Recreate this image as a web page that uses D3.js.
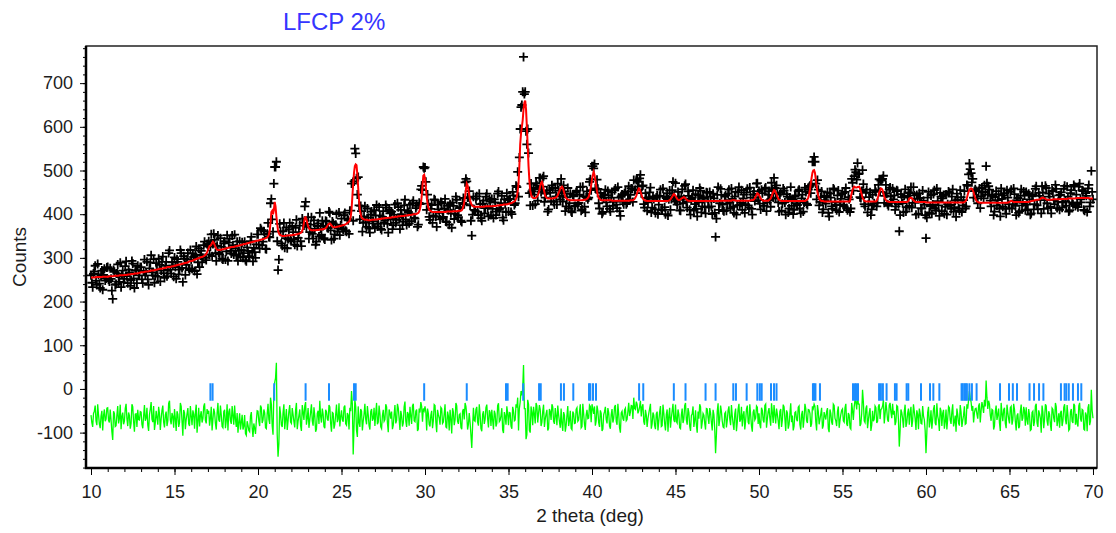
<!DOCTYPE html>
<html lang="en">
<head>
    <meta charset="UTF-8">
    <title>LFCP 2%</title>
    <script src="https://cdn.jsdelivr.net/npm/d3@7/dist/d3.min.js"></script>
    <style>
        body {
            margin: 0;
            background: #fff;
        }

        text {
            font-family: Arial, "Liberation Sans", sans-serif;
            fill: #1c1c1c;
        }

        .axis line {
            stroke: #000;
            stroke-width: 1px;
        }

        path.obs {
            fill: none;
            stroke: #000;
            stroke-width: 1.8px;
        }

        path.calc {
            fill: none;
            stroke: #ff0000;
            stroke-width: 2px;
        }

        path.diff {
            fill: none;
            stroke: #00ff00;
            stroke-width: 1.3px;
        }

        line.bragg {
            stroke: #1a8cff;
            stroke-width: 2px;
        }
    </style>
</head>
<body>
    <svg width=1116 height=533></svg>
    <script>
        // measurement grid: 10 to 70 deg, step 0.05
        var startAngle = 10,
            stepAngle = 0.05;

        // calculated profile (red), one row per degree
        var calcCounts = [
            255,255,255,255,255,255,256,256,256,256,256,256,256,256,257,257,257,257,257,257,
            257,257,258,258,258,258,258,258,259,259,259,259,259,259,260,260,260,260,260,260,
            261,261,261,261,262,262,262,262,263,263,263,263,264,264,264,264,265,265,266,266,
            267,267,267,267,268,268,269,269,269,269,270,270,271,271,271,271,272,272,273,273,
            274,274,275,275,275,275,276,276,277,277,278,278,279,279,279,279,280,280,281,281,
            282,282,283,283,284,284,285,285,286,286,287,287,288,288,289,289,290,291,292,292,
            293,293,294,295,296,296,297,298,299,299,300,301,302,302,303,304,305,307,309,313,
            318,323,327,328,330,334,337,335,330,325,321,319,318,318,318,318,319,319,320,320,
            321,321,322,322,323,323,324,324,325,325,325,325,326,326,327,327,328,328,329,329,
            330,330,331,331,332,332,333,333,334,334,335,335,336,336,337,337,338,338,339,339,
            340,340,341,341,342,342,343,343,344,345,346,347,349,353,362,380,405,408,400,410,
            428,418,395,378,362,356,353,352,351,350,350,350,350,350,351,351,351,351,352,352,
            352,352,353,353,353,353,354,354,355,355,356,357,358,362,368,380,392,393,388,380,
            372,368,365,364,363,363,363,363,363,363,364,364,364,364,365,365,365,365,366,366,
            367,368,370,373,376,378,379,377,374,372,370,370,370,370,371,371,372,372,373,373,
            374,374,375,375,376,377,378,380,381,383,386,394,410,440,470,495,510,514,512,490,
            460,432,410,400,393,390,389,388,387,387,387,387,386,386,386,386,387,387,387,387,
            388,388,388,388,389,389,389,389,390,390,390,390,391,391,391,391,392,392,392,392,
            393,393,393,393,394,394,394,394,395,395,395,395,396,396,396,396,397,397,397,397,
            398,398,398,398,399,399,400,400,400,400,401,402,403,406,412,422,440,465,488,490,
            482,462,440,425,415,410,408,407,406,405,405,405,405,405,405,405,405,405,405,405,
            405,405,405,405,405,405,406,406,406,406,406,406,406,406,407,407,407,407,407,407,
            408,408,408,408,409,412,418,428,440,456,470,466,455,443,432,425,421,419,418,417,
            417,417,417,417,417,417,417,417,417,417,417,417,418,418,418,418,418,418,418,418,
            418,418,419,419,419,419,420,420,420,420,421,421,421,421,422,422,422,422,423,423,
            424,424,425,425,426,427,428,429,431,435,440,452,470,510,560,585,600,615,640,655,
            660,640,600,555,510,478,455,445,440,438,437,437,437,438,440,443,448,455,465,471,
            474,468,458,450,442,439,437,436,436,436,436,436,436,436,437,437,438,438,440,443,
            448,453,458,461,463,460,454,447,440,437,435,434,433,432,432,432,432,432,432,432,
            432,432,432,432,432,432,432,432,432,432,433,433,433,434,435,437,440,446,455,466,
            480,490,497,490,478,465,452,443,437,435,433,432,432,432,432,432,432,432,432,432,
            432,432,432,432,431,431,431,431,431,431,431,431,431,431,431,431,431,431,431,431,
            431,431,431,431,431,431,432,432,432,432,433,435,438,442,448,454,459,458,452,446,
            440,436,433,432,431,431,430,430,430,430,430,430,430,430,430,430,430,430,430,430,
            430,430,430,430,430,430,430,430,430,430,430,430,431,432,434,437,440,443,446,445,
            442,438,435,433,432,433,434,436,437,438,439,438,436,434,432,431,431,430,430,430,
            430,430,430,430,430,430,430,430,430,430,430,430,430,430,430,430,430,430,430,430,
            430,430,430,430,430,430,430,430,430,430,430,430,430,430,431,431,431,431,431,431,
            431,431,431,431,431,431,431,431,432,432,432,432,431,431,431,431,431,431,431,431,
            431,431,431,431,431,431,431,431,431,431,432,432,432,433,434,436,440,444,448,447,
            444,440,436,434,432,431,431,431,431,431,431,431,432,434,436,440,446,451,455,454,
            450,446,440,436,433,432,431,430,430,430,430,430,430,430,430,430,430,430,430,430,
            430,430,430,430,430,430,430,430,430,430,430,430,430,430,430,430,431,432,434,438,
            445,456,470,483,495,500,501,495,480,464,450,442,436,433,431,430,430,430,429,429,
            429,429,429,429,429,429,429,429,429,429,429,429,429,429,429,429,429,429,429,429,
            429,429,429,429,429,429,429,429,429,429,440,448,456,460,463,462,461,461,462,462,
            463,459,452,445,438,434,431,430,429,429,429,429,429,429,429,429,429,429,429,429,
            429,431,435,442,450,455,459,458,455,448,440,435,432,430,429,429,428,428,428,428,
            428,428,428,428,428,428,428,428,428,428,428,428,428,428,428,428,428,428,429,430,
            436,437,438,437,434,432,430,429,428,428,428,428,428,428,428,428,428,428,428,428,
            427,427,427,427,427,427,427,427,427,427,427,427,427,427,427,427,427,427,427,427,
            427,427,427,427,427,427,427,427,427,427,427,427,427,427,427,427,427,427,427,427,
            427,427,427,427,427,427,428,429,432,437,445,451,456,458,459,458,455,450,443,437,
            432,429,428,427,427,426,426,426,426,426,426,426,426,426,426,426,426,426,426,426,
            426,426,426,426,426,426,426,426,426,426,426,426,426,426,426,426,426,426,427,427,
            428,429,431,430,429,428,428,428,428,428,428,428,428,428,428,428,428,428,428,428,
            428,428,428,428,429,429,430,430,431,431,432,432,433,433,433,433,434,435,437,437,
            438,437,436,435,434,433,433,433,433,433,433,433,434,434,434,434,434,434,434,434,
            434,434,435,435,435,435,435,435,435,435,436,436,436,436,436,436,436,436,436,436,
            437,437,437,437,437,437,437,437,437,437,437,437,437,437,437,437,436,436,436,436,
            436
        ];

        // obs - calc (green), one row per degree
        var diffCounts = [
            5,-12,-22,9,14,27,-8,-18,30,6,-15,-25,3,15,-30,4,18,-9,-4,21,
            22,-7,-12,18,-6,-33,-52,14,9,-21,-19,5,26,-14,-3,29,-27,2,11,-16,
            -9,20,31,-3,-20,11,4,-26,-14,30,24,-10,-33,7,8,-22,17,-5,-6,13,
            12,-16,-25,3,28,-8,-2,22,-18,-31,6,19,35,-4,-11,26,-29,-13,15,0,
            -17,24,9,-29,-4,16,27,-11,-23,5,13,-20,-8,32,38,-6,-16,10,2,-24,
            19,-3,-31,14,7,-22,-12,33,25,-9,-42,17,10,-27,-5,8,21,-15,-20,26,
            3,-18,16,7,-26,11,29,-35,-9,22,-21,4,14,-12,-3,25,32,-7,-14,19,
            8,15,-19,-2,24,-30,-5,20,11,-14,-28,9,33,-6,-10,27,6,-21,-24,13,
            17,-25,-7,30,-30,12,20,-8,-15,26,4,-17,27,-4,-22,10,-35,-12,9,-28,
            -12,6,-28,-20,5,-37,-41,-9,-18,-30,-33,3,12,-24,-45,-14,-25,-38,-8,15,
            14,-9,-20,27,22,-13,-6,18,10,-24,-26,8,31,-5,-15,45,30,-20,-40,60,
            80,90,125,-40,-90,-60,25,8,-18,-22,11,30,-27,-5,19,-29,-8,14,28,-11,
            -14,21,6,-10,-23,16,33,-27,-9,4,18,-19,-31,28,12,-6,26,35,-17,-2,
            21,-24,-6,12,30,-8,-19,23,4,-33,-27,9,15,-15,38,2,-12,20,7,-21,
            -25,17,13,-4,-8,28,24,-14,-33,11,9,-26,-16,6,29,-11,-4,32,-21,1,
            16,-6,-10,23,27,-15,-18,10,5,-28,22,14,60,30,-85,-20,40,25,-30,-45,
            25,-12,-22,19,14,-30,-9,7,31,-5,-16,26,6,-19,-28,13,19,-8,-3,22,
            -20,9,33,-16,-11,27,8,-22,-26,4,17,-9,-5,30,24,-13,-34,18,10,-3,
            13,-27,-18,6,28,-14,-7,31,21,-3,-29,15,4,-21,-13,24,36,-9,-22,12,
            7,-19,24,3,-15,26,31,-8,-10,14,18,-31,-27,20,11,35,25,-10,20,15,
            25,12,-30,20,9,-16,-21,5,15,-25,-8,29,27,-11,-34,17,6,-2,-17,23,
            20,-14,-11,8,30,-22,-24,13,3,-30,17,-4,-37,21,12,-18,-6,33,26,-9,
            -15,6,8,-23,-27,14,19,-5,33,25,5,-28,-16,10,-12,-40,-70,-20,22,-7,
            -9,18,24,-11,-19,30,6,-26,-32,7,14,-15,-4,22,29,-3,-23,16,11,-20,
            17,-6,-28,15,8,-21,-14,27,32,-10,-7,4,21,-29,-36,12,3,-17,25,9,
            -18,11,10,-20,-26,24,15,-8,-6,30,22,45,-30,20,35,60,50,65,120,20,
            20,-50,-40,40,30,-30,-35,25,12,-18,24,8,-14,33,26,-12,9,28,18,-20,
            -11,14,29,-22,-4,8,17,-30,-25,19,13,-6,30,24,-9,-15,21,3,-18,27,
            6,-10,-24,20,-15,-31,12,5,-33,-19,4,26,-20,-7,15,-25,-28,13,9,-14,
            -13,18,22,-9,-6,13,30,-24,-21,31,8,-16,-29,5,17,-3,-2,28,25,-11,
            30,20,8,25,-19,-8,27,15,-12,-22,16,9,-31,-27,6,13,24,-5,-14,21,
            11,-20,-26,6,19,-12,-3,24,28,-9,-17,31,7,-24,-35,10,14,-3,-8,17,
            21,-8,-5,14,33,3,12,27,26,-4,45,20,18,36,30,9,15,24,38,2,
            24,30,-10,-17,17,6,-22,-3,9,20,31,-26,-15,11,5,-19,-27,8,13,-30,
            -8,12,26,-21,-19,29,10,-14,-30,7,18,-33,3,22,-24,-2,15,31,-6,-11,
            29,-9,-13,18,7,-24,-26,5,20,-13,-4,27,33,-6,-17,21,11,-20,-31,4,
            8,25,-22,-7,16,-18,-35,13,-3,30,24,-26,-12,9,5,-14,-28,20,19,-1,
            -15,21,10,-12,-30,17,6,-27,-82,-40,14,32,-20,-5,27,13,-9,-22,-24,9,
            12,-23,-7,16,25,-4,-18,28,3,-15,-29,8,20,-32,-11,19,31,-10,-5,24,
            -21,5,14,-28,-8,19,27,-11,-16,30,6,-20,-33,12,18,-6,-2,26,23,-15,
            9,-16,-25,22,16,-7,-12,27,30,-24,-4,13,21,-2,-19,32,11,-13,28,6,
            -14,20,7,-9,-27,13,19,-22,-6,29,24,-3,-31,16,10,-26,-17,8,32,-11,
            4,-30,-20,11,13,-5,-9,23,26,-17,-28,6,15,-24,-3,31,20,-8,-13,18,
            17,9,-22,-15,25,20,30,25,-10,-30,28,14,-16,-5,8,22,-26,-19,12,3,
            -5,13,21,-26,-34,18,9,-11,-17,30,27,-2,-8,-20,14,25,-24,-7,6,16,
            19,-8,-11,22,31,-15,-20,10,5,-24,-27,33,16,-6,24,40,35,18,55,30,
            30,-20,-15,8,63,35,-8,-12,20,27,-25,-6,10,21,-31,-18,15,-9,-4,26,
            22,-13,-9,25,30,-4,18,20,26,40,-14,7,35,17,-6,-10,28,33,12,-2,
            31,6,15,-18,-10,27,25,-5,-67,-30,18,11,-3,-24,14,29,-22,-12,9,20,
            -17,11,24,-22,-8,30,13,-3,-29,16,7,-27,20,9,-14,-15,26,3,-6,-30,
            -82,-35,11,24,-23,-9,16,-26,-5,19,28,-13,-18,32,3,-7,-31,22,14,-20,
            9,17,-26,-10,18,-28,-4,25,22,-6,-15,13,30,-21,-11,4,-33,20,7,-14,
            -19,28,12,-22,-7,5,25,-16,-14,30,20,40,60,45,35,15,26,-12,10,20,
            21,7,-3,26,32,-12,15,35,24,10,40,25,84,45,19,38,30,5,-8,18,
            16,-28,-20,13,27,-6,6,20,-13,-31,33,9,-9,17,22,-14,-25,29,11,-4,
            -14,22,25,-17,-6,31,18,-9,-30,4,9,-25,-21,14,29,-8,-2,24,15,-19,
            23,-6,-17,19,5,-30,-28,11,14,-20,-9,26,31,-13,-22,16,8,-3,-35,27,
            12,-25,-4,30,26,-8,-19,14,7,-16,-31,21,18,-2,-11,33,24,-20,-6,9,
            -24,10,15,-20,-8,23,30,-5,-16,28,4,-30,-27,12,19,-9,-13,31,27,-17,
            8,-14,-21,26,33,-3,-10,18,16,-27,-29,11,5,-32,22,30,-18,-9,63,15,
            -2
        ];

        // reflection positions (blue ticks)
        var braggPositions = [
            17.15, 17.28, 20.97, 22.85, 24.25, 25.75, 25.85, 29.95, 32.5, 34.85, 34.95,
            35.88, 36.83, 36.93, 38.14, 38.32, 38.88, 39.82, 39.9, 40.06, 40.24, 42.82,
            43.07, 44.9, 45.6, 46.8, 47.4, 48.46, 48.62, 49.26, 49.9, 50.05, 50.16, 50.72,
            50.9, 51.05, 53.23, 53.3, 53.38, 53.65, 55.63, 55.75, 55.83, 55.93, 57.19,
            57.3, 57.42, 57.64, 58.14, 58.24, 58.84, 58.94, 59.7, 60.24, 60.44, 60.8,
            62.13, 62.2, 62.3, 62.37, 62.45, 62.6, 62.75, 63.03, 64.43, 64.97, 65.2,
            65.45, 66.2, 66.47, 66.77, 67.03, 68.08, 68.3, 68.4, 68.55, 68.8, 69.1, 69.3
        ];

        var xTickValues = [10, 15, 20, 25, 30, 35, 40, 45, 50, 55, 60, 65, 70],
            yTickValues = [-100, 0, 100, 200, 300, 400, 500, 600, 700],
            diffOffset = -65,
            titleText = 'LFCP 2%',
            xLabel = '2 theta (deg)',
            yLabel = 'Counts';

        var svg = d3.select('svg'),
            plot = { left: 86, right: 1097, top: 46, bottom: 468 },
            xScale = d3.scaleLinear().domain([9.7, 70.24]).range([plot.left, plot.right]),
            yScale = d3.scaleLinear().domain([-181, 785]).range([plot.bottom, plot.top]),
            plainFormat = function(d) { return String(d); };

        var n = Math.min(calcCounts.length, diffCounts.length),
            points = d3.range(n).map(function(i) {
                return {
                    x: startAngle + i * stepAngle,
                    calc: calcCounts[i],
                    obs: calcCounts[i] + diffCounts[i],
                    diff: diffCounts[i]
                };
            });

        svg.append('defs').append('clipPath')
            .attr('id', 'plot-clip')
            .append('rect')
            .attr('x', plot.left)
            .attr('y', plot.top)
            .attr('width', plot.right - plot.left)
            .attr('height', plot.bottom - plot.top);

        // title
        svg.append('text')
            .attr('x', 283)
            .attr('y', 30)
            .style('font-size', '24px')
            .style('fill', '#3535ff')
            .text(titleText);

        // y axis, major + minor ticks
        var yAxisG = svg.append('g')
            .attr('class', 'axis')
            .attr('transform', 'translate(' + plot.left + ',0)');

        yAxisG.call(d3.axisLeft(yScale).tickValues(yTickValues).tickFormat(plainFormat).tickSize(6).tickPadding(7))
            .call(function(g) { g.select('.domain').remove(); });
        yAxisG.selectAll('text').style('font-size', '18px').style('fill', '#1c1c1c');

        svg.append('g')
            .attr('class', 'axis')
            .attr('transform', 'translate(' + plot.left + ',0)')
            .call(d3.axisLeft(yScale).tickValues(d3.range(-180, 781, 20)).tickSize(3).tickFormat(''))
            .call(function(g) { g.select('.domain').remove(); });

        // x axis, major + minor ticks
        var xAxisG = svg.append('g')
            .attr('class', 'axis')
            .attr('transform', 'translate(0,' + plot.bottom + ')');

        xAxisG.call(d3.axisBottom(xScale).tickValues(xTickValues).tickFormat(plainFormat).tickSize(7).tickPadding(10))
            .call(function(g) { g.select('.domain').remove(); });
        xAxisG.selectAll('text').style('font-size', '18px').style('fill', '#1c1c1c');

        svg.append('g')
            .attr('class', 'axis')
            .attr('transform', 'translate(0,' + plot.bottom + ')')
            .call(d3.axisBottom(xScale).tickValues(d3.range(10, 71, 1)).tickSize(4).tickFormat(''))
            .call(function(g) { g.select('.domain').remove(); });

        // axis titles
        svg.append('text')
            .attr('transform', 'translate(26,' + ((plot.top + plot.bottom) / 2) + ') rotate(-90)')
            .attr('text-anchor', 'middle')
            .style('font-size', '19px')
            .text(yLabel);

        svg.append('text')
            .attr('x', 590)
            .attr('y', 522)
            .attr('text-anchor', 'middle')
            .style('font-size', '19px')
            .text(xLabel);

        var dataG = svg.append('g').attr('clip-path', 'url(#plot-clip)');

        // observed points as '+' markers
        var half = 4.5;
        dataG.append('path')
            .classed('obs', true)
            .attr('d', points.map(function(d) {
                var px = xScale(d.x), py = yScale(d.obs);
                return 'M' + (px - half) + ',' + py + 'H' + (px + half) +
                       'M' + px + ',' + (py - half) + 'V' + (py + half);
            }).join(''));

        // calculated profile
        dataG.append('path')
            .classed('calc', true)
            .datum(points)
            .attr('d', d3.line()
                .x(function(d) { return xScale(d.x); })
                .y(function(d) { return yScale(d.calc); }));

        // difference curve
        dataG.append('path')
            .classed('diff', true)
            .datum(points)
            .attr('d', d3.line()
                .x(function(d) { return xScale(d.x); })
                .y(function(d) { return yScale(d.diff + diffOffset); }));

        // bragg positions
        dataG.selectAll('line.bragg')
            .data(braggPositions)
            .enter().append('line')
            .classed('bragg', true)
            .attr('x1', function(d) { return xScale(d); })
            .attr('x2', function(d) { return xScale(d); })
            .attr('y1', yScale(13))
            .attr('y2', yScale(-27));

        // frame: thin top/right, heavy left/bottom
        svg.append('rect')
            .attr('x', plot.left)
            .attr('y', plot.top)
            .attr('width', plot.right - plot.left)
            .attr('height', plot.bottom - plot.top)
            .style('fill', 'none')
            .style('stroke', '#222')
            .style('stroke-width', '1.5px');

        svg.append('path')
            .attr('d', 'M' + plot.left + ',' + plot.top + 'V' + plot.bottom + 'H' + plot.right)
            .style('fill', 'none')
            .style('stroke', '#000')
            .style('stroke-width', '2.5px');
    </script>
</body>
</html>
